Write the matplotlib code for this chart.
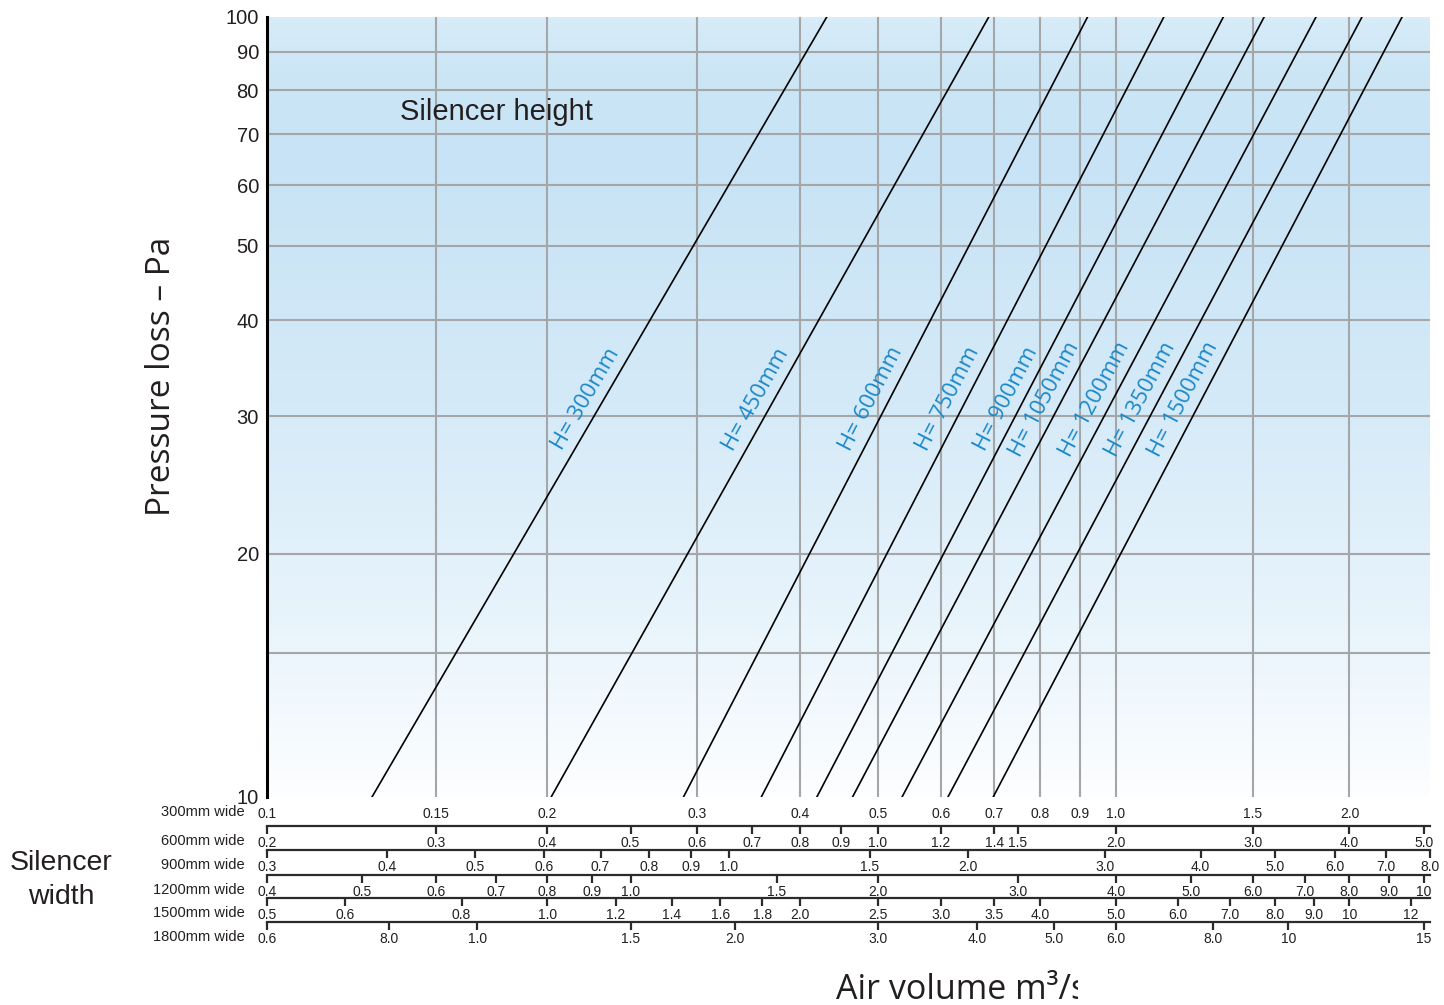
import matplotlib.pyplot as plt
import numpy as np
from matplotlib.colors import LinearSegmentedColormap
from matplotlib.transforms import Bbox, TransformedBbox
from matplotlib.ticker import NullLocator

plt.rcParams["font.family"] = ["Liberation Sans", "DejaVu Sans"]

# pressure loss axis (Pa)
pressure_ticks = [10, 20, 30, 40, 50, 60, 70, 80, 90, 100]
pressure_grid = [15, 20, 30, 40, 50, 60, 70, 80, 90]

# air volume scales (m3/s), one row per silencer width
width_names = ["300mm wide", "600mm wide", "900mm wide",
               "1200mm wide", "1500mm wide", "1800mm wide"]
width_factor = [1, 2, 3, 4, 5, 6]
ticks_300 = [0.1, 0.15, 0.2, 0.3, 0.4, 0.5, 0.6, 0.7, 0.8, 0.9, 1.0, 1.5, 2.0]
ticks_600 = [0.2, 0.3, 0.4, 0.5, 0.6, 0.7, 0.8, 0.9, 1.0, 1.2, 1.4, 1.5,
             2.0, 3.0, 4.0, 5.0]
ticks_900 = [0.3, 0.4, 0.5, 0.6, 0.7, 0.8, 0.9, 1.0, 1.5, 2.0, 3.0, 4.0,
             5.0, 6.0, 7.0, 8.0]
ticks_1200 = [0.4, 0.5, 0.6, 0.7, 0.8, 0.9, 1.0, 1.5, 2.0, 3.0, 4.0, 5.0,
              6.0, 7.0, 8.0, 9.0, 10]
ticks_1500 = [0.5, 0.6, 0.8, 1.0, 1.2, 1.4, 1.6, 1.8, 2.0, 2.5, 3.0, 3.5,
              4.0, 5.0, 6.0, 7.0, 8.0, 9.0, 10, 12]
ticks_1800 = [0.6, 0.8, 1.0, 1.5, 2.0, 3.0, 4.0, 5.0, 6.0, 8.0, 10, 15]
# the printed chart labels 0.8 on the 1800mm row as "8.0"
labels_1800 = ["0.6", "8.0", "1.0", "1.5", "2.0", "3.0", "4.0", "5.0",
               "6.0", "8.0", "10", "15"]
row_ticks = [ticks_300, ticks_600, ticks_900, ticks_1200, ticks_1500, ticks_1800]

# silencer height curves: air volume (300mm row) at 10 Pa and at 100 Pa
height_names = ["H= 300mm", "H= 450mm", "H= 600mm", "H= 750mm", "H= 900mm",
                "H= 1050mm", "H= 1200mm", "H= 1350mm", "H= 1500mm"]
q_at_10 = [0.128, 0.202, 0.289, 0.359, 0.420, 0.465, 0.536, 0.612, 0.698]
q_at_100 = [0.432, 0.689, 0.920, 1.152, 1.374, 1.551, 1.810, 2.076, 2.34]

Q_MAX = 2.544        # right end of the 300mm scale
Q_OFFSET = 0.025     # printed volume scale behaves like log(q - offset)
P_OFFSET = 1.0       # printed pressure scale behaves like log(p - offset)

GRID = "#a5a6a8"
INK = "#231f20"
BLUE = "#1b88c8"

W_PX, H_PX = 1444, 1005
LEFT, RIGHT = 267 / W_PX, 1430 / W_PX
TOP, BOTTOM = 1 - 17 / H_PX, 1 - 797 / H_PX
row_lines_px = [826, 850, 875, 898, 922]


def offset_log(c):
    def fwd(v):
        return np.log10(np.clip(np.asarray(v, dtype=float) - c, 1e-6, None))

    def inv(u):
        return 10 ** np.asarray(u, dtype=float) + c

    return fwd, inv


def fmt(v):
    if v >= 10:
        return f"{v:.0f}"
    if abs(round(v, 1) - v) > 1e-9:
        return f"{v:.2f}"
    return f"{v:.1f}"


fig = plt.figure(figsize=(W_PX / 100, H_PX / 100), dpi=100)

# background gradient behind the plotting area
bg = fig.add_axes([LEFT, BOTTOM, RIGHT - LEFT, TOP - BOTTOM])
cmap = LinearSegmentedColormap.from_list(
    "sky",
    [(0.0, "#fdfeff"), (0.2, "#eaf5fc"), (0.5, "#d5eaf8"),
     (0.82, "#c7e3f5"), (0.93, "#cce6f6"), (1.0, "#d8ecf9")],
)
bg.imshow(np.linspace(1, 0, 256)[:, None], aspect="auto", cmap=cmap,
          extent=(0, 1, 0, 1), vmin=0, vmax=1)
bg.axis("off")

ax = fig.add_axes([LEFT, BOTTOM, RIGHT - LEFT, TOP - BOTTOM])
ax.patch.set_alpha(0)
ax.set_xscale("function", functions=offset_log(Q_OFFSET))
ax.set_yscale("function", functions=offset_log(P_OFFSET))
ax.set_xlim(0.1, Q_MAX)
ax.set_ylim(10, 100)

for g in pressure_grid:
    ax.axhline(g, color=GRID, lw=1.5, zorder=1)
for v in ticks_300[1:]:
    ax.axvline(v, color=GRID, lw=1.5, zorder=1)

ax.set_yticks(pressure_ticks, labels=[str(p) for p in pressure_ticks])
ax.yaxis.set_minor_locator(NullLocator())
ax.set_xticks(ticks_300, labels=[fmt(v) for v in ticks_300])
ax.xaxis.set_minor_locator(NullLocator())
ax.tick_params(axis="y", length=0, pad=5.8, labelsize=14.5, labelcolor=INK)
ax.tick_params(axis="x", length=0, pad=7.2, labelsize=10, labelcolor=INK)
for side in ["top", "right", "bottom"]:
    ax.spines[side].set_visible(False)
ax.spines["left"].set_linewidth(2.2)
ax.spines["left"].set_color("black")
ax.spines["left"].set_zorder(4)

for name, q10, q100 in zip(height_names, q_at_10, q_at_100):
    ax.plot([q10, q100], [10, 100], color="black", lw=1.2, zorder=3)
    p0 = ax.transData.transform((q10, 10))
    p1 = ax.transData.transform((q100, 100))
    angle = np.degrees(np.arctan2(p1[1] - p0[1], p1[0] - p0[0]))
    xy = ax.transData.inverted().transform(p0 + 0.51 * (p1 - p0))
    ax.annotate(name, xy=xy, xytext=(-18, 0), textcoords="offset pixels",
                rotation=angle, rotation_mode="anchor", ha="center",
                va="center", color=BLUE, fontsize=16, family="Open Sans",
                zorder=4)

ax.text(0.1144, 0.878, "Silencer height", transform=ax.transAxes,
        ha="left", va="center", fontsize=21, color=INK)
ax.annotate(width_names[0], xy=(0, 0), xycoords="axes fraction",
            xytext=(-22, -15), textcoords="offset pixels", ha="right",
            va="center", fontsize=10.5, color=INK)

# secondary volume scales for the wider silencers
for i in range(1, len(width_names)):
    f = width_factor[i]
    y_px = row_lines_px[i - 1]
    rax = fig.add_axes([LEFT, 1 - (y_px + 1) / H_PX, RIGHT - LEFT, 1 / H_PX])
    rax.patch.set_alpha(0)
    rax.set_xscale("function", functions=offset_log(Q_OFFSET * f))
    rax.set_xlim(0.1 * f, Q_MAX * f)
    rax.set_yticks([])
    ticks = row_ticks[i]
    labels = labels_1800 if i == 5 else [fmt(v) for v in ticks]
    rax.set_xticks(ticks, labels=labels)
    rax.xaxis.set_minor_locator(NullLocator())
    rax.tick_params(axis="x", direction="in", length=6, width=1.6,
                    color="#2b2b2b", top=True, bottom=False, labeltop=False,
                    labelbottom=True, pad=6.3, labelsize=10, labelcolor=INK)
    for side in ["left", "right", "bottom"]:
        rax.spines[side].set_visible(False)
    rax.spines["top"].set_linewidth(1.6)
    rax.spines["top"].set_color("#2b2b2b")
    rax.annotate(width_names[i], xy=(0, 1), xycoords="axes fraction",
                 xytext=(-22, -15), textcoords="offset pixels", ha="right",
                 va="center", fontsize=10.5, color=INK)

fig.text(61 / W_PX, 1 - 880 / H_PX, "Silencer\nwidth", ha="center",
         va="center", fontsize=20.5, color=INK, linespacing=1.38)
fig.text(162 / W_PX, 1 - 376 / H_PX, "Pressure loss \u2013 Pa", rotation=90,
         ha="center", va="center", fontsize=24, family="Open Sans", color=INK)
xlabel = fig.text(836 / W_PX, 1 - 999 / H_PX, "Air volume m\u00b3/s",
                  ha="left", va="baseline", fontsize=24.5, family="Open Sans",
                  color=INK)
xlabel.set_clip_box(TransformedBbox(Bbox([[0, 0], [1078 / W_PX, 1]]),
                                    fig.transFigure))
xlabel.set_clip_on(True)

fig.savefig("out.png", dpi=100)
plt.close(fig)
